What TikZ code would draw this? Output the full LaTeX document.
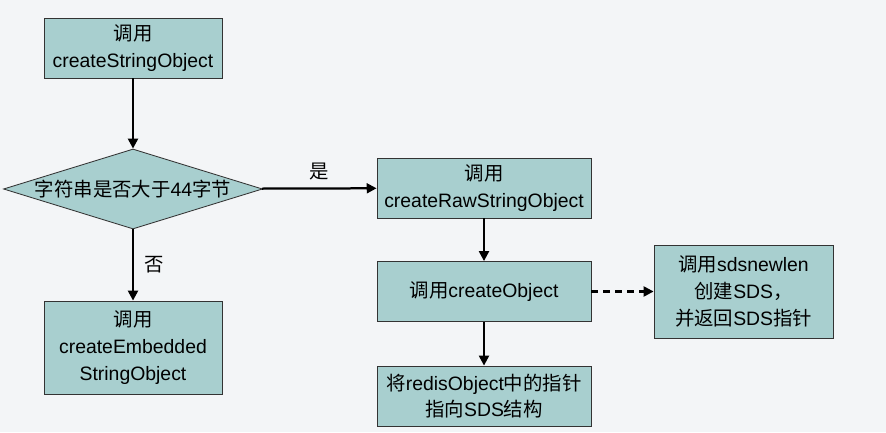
\documentclass[tikz,border=0pt]{standalone}
\usepackage{fontspec}
\setmainfont{Liberation Sans}
\newfontfamily\cjk{Noto Sans CJK SC}
\usepackage{tikz}
\usetikzlibrary{arrows.meta, shapes.geometric}
\definecolor{boxfill}{HTML}{A8CFCF}
\definecolor{pagebg}{HTML}{F3F5F7}
\colorlet{boxline}{black!80}

\begin{document}
\begin{tikzpicture}[>={Triangle[length=7pt, width=7pt]},
    box/.style={draw=boxline, fill=boxfill, line width=0.6pt, align=center, inner sep=0pt,
      font=\fontsize{13.8}{19}\selectfont},
    flow/.style={->, line width=1.6pt},
    tag/.style={font=\fontsize{13.8}{19}\selectfont\cjk}]
    \fill[pagebg] (0,0) rectangle (22.15,10.8);
    \useasboundingbox (0,0) rectangle (22.15,10.8);

    % left column
    \node[box, minimum width=4.45cm, minimum height=1.5cm] (callstr) at (3.325, 9.6)
      {{\cjk 调用}\\createStringObject};
    \node[box, shape=diamond, aspect=3.2, minimum width=6.475cm, minimum height=2cm] (size) at (3.325, 6.075)
      {{\cjk 字符串是否大于}44{\cjk 字节}};
    \node[box, minimum width=4.45cm, minimum height=2.325cm] (embed) at (3.325, 2.1125)
      {{\cjk 调用}\\createEmbedded\\StringObject};

    % right column
    \node[box, minimum width=5.35cm, minimum height=1.5cm] (raw) at (12.1, 6.1)
      {{\cjk 调用}\\createRawStringObject};
    \node[box, minimum width=5.35cm, minimum height=1.5cm] (obj) at (12.1, 3.5125)
      {{\cjk 调用}createObject};
    \node[box, minimum width=5.35cm, minimum height=1.5cm] (point) at (12.1, 0.9)
      {{\cjk 将}redisObject{\cjk 中的指针}\\{\cjk 指向}SDS{\cjk 结构}};
    \node[box, minimum width=4.475cm, minimum height=2.325cm] (sds) at (18.5875, 3.5125)
      {{\cjk 调用}sdsnewlen\\{\cjk 创建}SDS{\cjk ，}\\{\cjk 并返回}SDS{\cjk 指针}};

    \draw[flow] (callstr) -- (size);
    \draw[flow] (size) -- node[tag, above=2pt] {是} (raw);
    \draw[flow] (size) -- node[tag, right=4pt] {否} (embed);
    \draw[flow] (raw) -- (obj);
    \draw[flow] (obj) -- (point);
    \draw[flow, dash pattern=on 5pt off 3.5pt] (obj) -- (sds);
\end{tikzpicture}
\end{document}
